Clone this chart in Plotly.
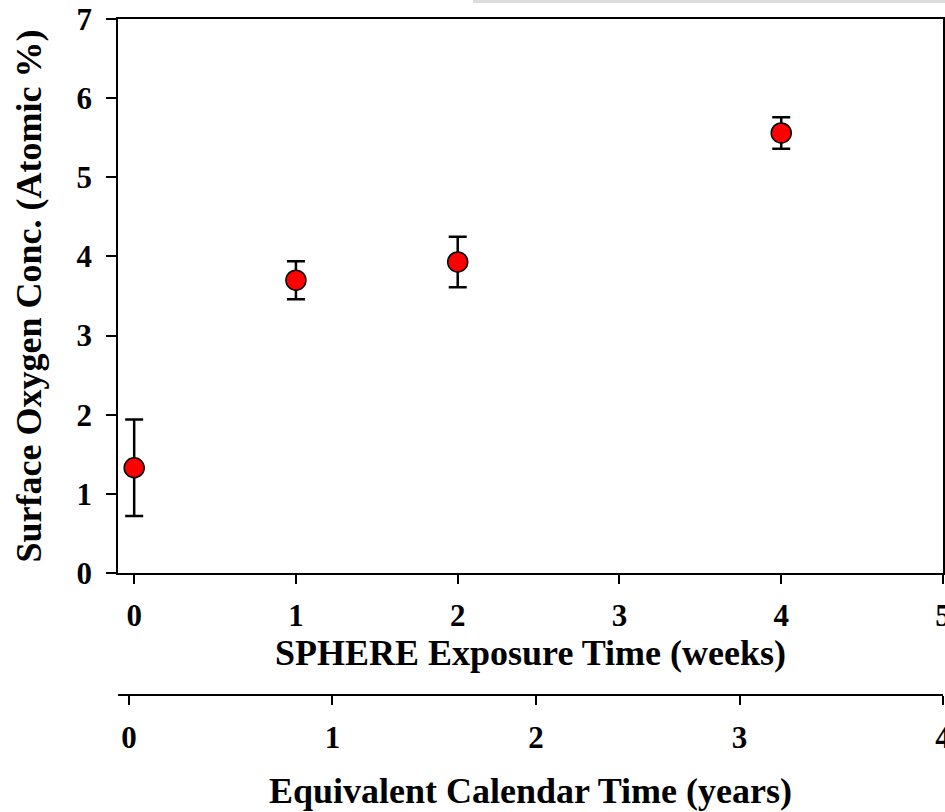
import plotly.graph_objects as go

# Data
weeks = [0, 1, 2, 4]
oxygen = [1.33, 3.70, 3.93, 5.56]
oxygen_err = [0.61, 0.24, 0.32, 0.20]

x_ticks = [0, 1, 2, 3, 4, 5]
y_ticks = [0, 1, 2, 3, 4, 5, 6, 7]
year_ticks = [0, 1, 2, 3, 4]

FONT = "Liberation Serif"
W, H = 945, 812
ML, MR, MT, MB = 118, 2, 19, 17
PH = H - MT - MB  # paper height in px


def py(pix):
    """pixel y (from top) -> paper fraction"""
    return (H - MB - pix) / PH


main_axis_y = py(573)
second_axis_y = py(695)

fig = go.Figure()
fig.add_trace(go.Scatter(
    x=weeks, y=oxygen, mode="markers",
    marker=dict(size=20, color="#ff0000", line=dict(color="black", width=1.5)),
    error_y=dict(type="data", array=oxygen_err, visible=True,
                 color="black", thickness=2.5, width=9),
    showlegend=False, hoverinfo="x+y",
))
# empty trace so the calendar-time axis is drawn
fig.add_trace(go.Scatter(x=[], y=[], xaxis="x2", yaxis="y", showlegend=False,
                         hoverinfo="skip"))

tickfont = dict(family=FONT, size=31, color="black", weight="bold")
titlefont = dict(family=FONT, size=36, color="black", weight="bold")

common = dict(
    ticks="outside", tickwidth=1.5, tickcolor="black",
    showline=True, linecolor="black", linewidth=1.5,
    showgrid=False, zeroline=False, automargin=False,
    tickfont=tickfont, ticklabeloverflow="allow",
)

fig.update_layout(
    width=W, height=H,
    margin=dict(l=ML, r=MR, t=MT, b=MB, autoexpand=False),
    paper_bgcolor="white", plot_bgcolor="white",
    showlegend=False,
    xaxis=dict(
        range=[-0.1, 5], tickvals=x_ticks, ticktext=[str(v) for v in x_ticks],
        ticklen=9, mirror=True, ticklabelstandoff=5,
        title=dict(text="SPHERE Exposure Time (weeks)", font=titlefont, standoff=3),
        anchor="y", **common,
    ),
    yaxis=dict(
        domain=[main_axis_y, 1], range=[0, 7],
        tickvals=y_ticks, ticktext=[str(v) for v in y_ticks],
        ticklen=10, mirror=True, ticklabelstandoff=8,
        title=dict(text="Surface Oxygen Conc. (Atomic %)", font=titlefont, standoff=24),
        **common,
    ),
    xaxis2=dict(
        overlaying="x", anchor="free", position=second_axis_y, side="bottom",
        range=[-0.054, 4.0], tickvals=year_ticks, ticktext=[str(v) for v in year_ticks],
        ticklen=9, ticklabelstandoff=6,
        title=dict(text="Equivalent Calendar Time (years)", font=titlefont, standoff=23),
        **common,
    ),
)

# short extension of the x axis line to the left of the frame
fig.add_shape(type="line", xref="paper", yref="paper",
              x0=-8 / (W - ML - MR), x1=0, y0=main_axis_y, y1=main_axis_y,
              line=dict(color="black", width=1.5))
# faint grey strip along the top edge
fig.add_shape(type="rect", xref="paper", yref="paper",
              x0=(473 - ML) / (W - ML - MR), x1=(W - ML) / (W - ML - MR),
              y0=py(3), y1=py(0), line=dict(width=0), fillcolor="#dcdcdc", layer="below")

fig.write_html("out.html")
